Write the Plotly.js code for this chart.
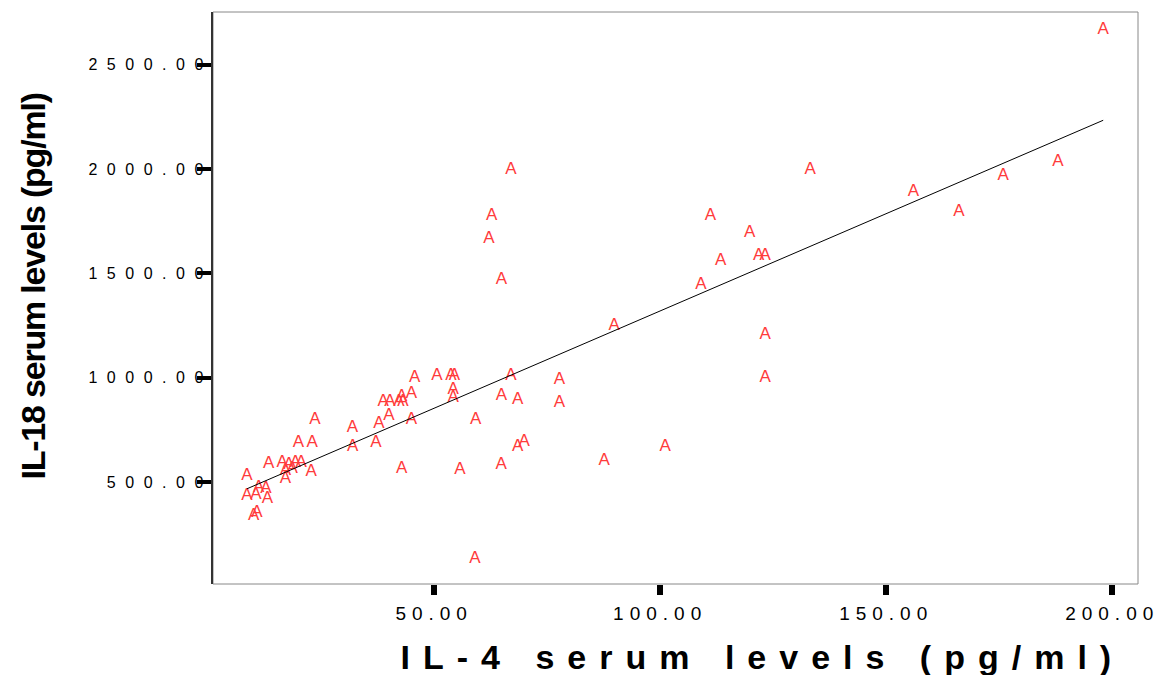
<!DOCTYPE html>
<html>
<head>
<meta charset="utf-8">
<script src="https://cdn.plot.ly/plotly-3.0.1.min.js"></script>
<style>
html, body { margin: 0; padding: 0; background: #fff; }
#chart { width: 1170px; height: 675px; }
.ytick text { letter-spacing: 9.5px; }
.xtick text { letter-spacing: 6px; }
.textpoint text { transform: translateY(3px); }
.annotation[data-index="0"] .annotation-text { letter-spacing: 13px; }
.annotation[data-index="1"] .annotation-text { letter-spacing: -1.2px; }
</style>
</head>
<body>
<div id="chart"></div>
<script>
// IL-4 serum levels (pg/ml)
var il4 = [
  23.6, 20.0, 23.0, 31.9, 32.0, 37.1, 37.8, 40.0, 38.7, 40.2, 42.2, 43.1, 42.8, 45.0, 45.0, 42.8,
  13.4, 16.4, 17.9, 19.3, 20.6, 17.1, 18.6, 17.1, 22.8, 8.6, 8.6, 10.6, 11.2, 12.8, 13.1, 10.1, 10.8,
  45.7, 50.6, 53.7, 54.5, 54.2, 54.2, 59.2, 64.9, 68.5, 67.0, 77.7, 77.7, 68.5, 69.9, 64.8, 55.7, 87.6, 59.0,
  67.0, 62.7, 62.1, 64.9,
  133.2, 111.1, 119.8, 121.8, 123.2, 113.4, 109.0, 89.8, 123.2, 123.2, 101.1,
  198.0, 156.0, 166.1, 175.9, 188.0
];
// IL-18 serum levels (pg/ml)
var il18 = [
  814, 705, 705, 777, 685, 705, 794, 834, 901, 901, 901, 901, 925, 938, 814, 580,
  602, 605, 600, 605, 605, 570, 580, 532, 563, 543, 447, 455, 487, 484, 436, 352, 368,
  1015, 1025, 1025, 1025, 957, 917, 814, 930, 909, 1025, 1005, 893, 686, 707, 599, 572, 619, 145,
  2012, 1792, 1678, 1485,
  2012, 1792, 1708, 1598, 1598, 1577, 1461, 1262, 1222, 1012, 683,
  2683, 1903, 1808, 1983, 2047
];
var markerLabel = 'A';
// Fit line
var fitIntercept = 388;
var fitSlope = 9.32;

var xTickVals = [50, 100, 150, 200];
var yTickVals = [500, 1000, 1500, 2000, 2500];
var xTitle = 'IL-4 serum levels (pg/ml)';
var yTitle = 'IL-18 serum levels (pg/ml)';

var xMin = Math.min.apply(null, il4), xMax = Math.max.apply(null, il4);
var fitX = [xMin, xMax];
var fitY = fitX.map(function (v) { return fitIntercept + fitSlope * v; });

var traces = [
  {
    x: il4, y: il18, type: 'scatter', mode: 'text',
    text: il4.map(function () { return markerLabel; }),
    textposition: 'middle center',
    textfont: { family: 'Liberation Sans, Arial, sans-serif', size: 17, color: '#ff3b3b' },
    hoverinfo: 'x+y', showlegend: false
  },
  {
    x: fitX, y: fitY, type: 'scatter', mode: 'lines',
    line: { color: '#000', width: 1 }, hoverinfo: 'skip', showlegend: false
  }
];

var layout = {
  width: 1170, height: 675,
  margin: { l: 213, r: 32, t: 12, b: 91 },
  paper_bgcolor: '#fff', plot_bgcolor: '#fff',
  showlegend: false,
  xaxis: {
    range: [1.08, 205.7],
    tickvals: xTickVals, tickformat: '.2f',
    ticks: 'outside', ticklen: 10, tickwidth: 6, tickcolor: '#000',
    ticklabelstandoff: 2,
    tickfont: { family: 'Liberation Sans, Arial, sans-serif', size: 19, color: '#000' },
    showgrid: false, zeroline: false, showline: false
  },
  yaxis: {
    range: [12, 2752],
    tickvals: yTickVals, tickformat: '.2f',
    ticks: 'outside', ticklen: 14, tickwidth: 4, tickcolor: '#000',
    ticklabelstandoff: -19,
    tickfont: { family: 'Liberation Sans, Arial, sans-serif', size: 16, color: '#000' },
    showgrid: false, zeroline: false,
    showline: true, linecolor: '#333', linewidth: 2
  },
  shapes: [
    { type: 'rect', xref: 'paper', yref: 'paper', x0: 0, x1: 1, y0: 0, y1: 1,
      line: { color: '#888', width: 1 }, fillcolor: 'rgba(0,0,0,0)', layer: 'below' }
  ],
  annotations: [
    { text: '<b>' + xTitle + '</b>', xref: 'paper', yref: 'paper', x: 0.594, y: -0.128,
      xanchor: 'center', yanchor: 'middle', showarrow: false,
      font: { family: 'Liberation Sans, Arial, sans-serif', size: 34, color: '#000' } },
    { text: '<b>' + yTitle + '</b>', xref: 'paper', yref: 'paper', x: -0.195, y: 0.52,
      xanchor: 'center', yanchor: 'middle', textangle: -90, showarrow: false,
      font: { family: 'Liberation Sans, Arial, sans-serif', size: 34, color: '#000' } }
  ]
};

Plotly.newPlot('chart', traces, layout, { displayModeBar: false, staticPlot: true });
</script>
</body>
</html>
